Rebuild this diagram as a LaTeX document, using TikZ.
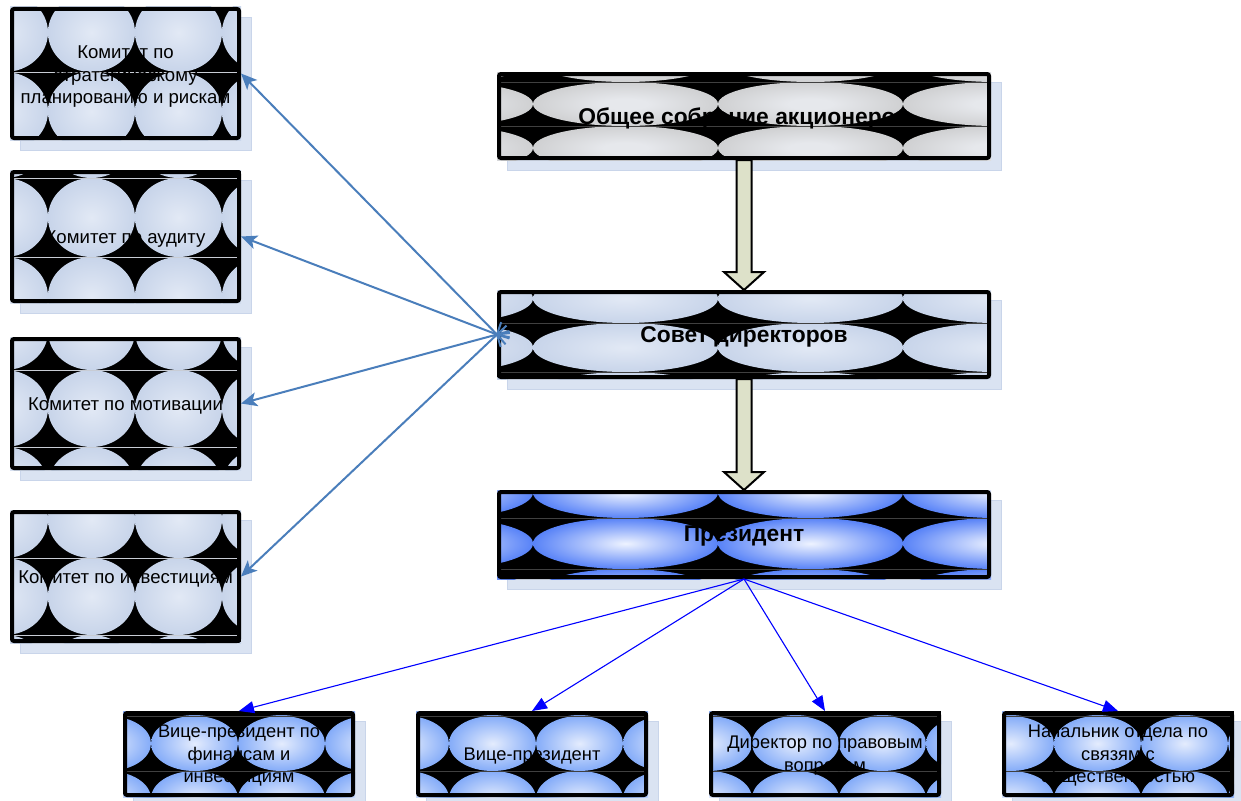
\documentclass[tikz,border=0pt]{standalone}
\usepackage{fontspec}
\setmainfont{Liberation Sans}
\usetikzlibrary{arrows.meta,calc}

\definecolor{lbO}{HTML}{B8C8E3}
\definecolor{lbI}{HTML}{E2E9F5}
\definecolor{gyO}{HTML}{C0C0C0}
\definecolor{gyI}{HTML}{E6E8EC}
\definecolor{prO}{HTML}{3A6CF6}
\definecolor{prI}{HTML}{EEF3FF}
\definecolor{vpO}{HTML}{6A9AF7}
\definecolor{vpI}{HTML}{E4ECFD}
\definecolor{shadowc}{HTML}{DAE3F2}
\definecolor{shadowe}{HTML}{C9D5EA}
\definecolor{arrfill}{HTML}{DDE1C9}
\definecolor{steel}{HTML}{4A7EBB}
\definecolor{pureblue}{HTML}{0000FF}
\definecolor{seamlight}{HTML}{C8CCD4}
\definecolor{seamdark}{HTML}{404040}

\pgfdeclareradialshading{shLB}{\pgfpoint{0bp}{0bp}}{color(0bp)=(lbI); color(40bp)=(lbO); color(50bp)=(lbO)}
\pgfdeclareradialshading{shGY}{\pgfpoint{0bp}{0bp}}{color(0bp)=(gyI); color(6bp)=(gyI); color(38bp)=(gyO); color(50bp)=(gyO)}
\pgfdeclareradialshading{shPR}{\pgfpoint{0bp}{0bp}}{color(0bp)=(prI); color(30bp)=(prO); color(50bp)=(prO)}
\pgfdeclareradialshading{shVP}{\pgfpoint{0bp}{0bp}}{color(0bp)=(vpI); color(32bp)=(vpO); color(50bp)=(vpO)}

\def\seamcol{seamdark}
% #1 x1, #2 y1, #3 x2, #4 y2, #5 shading, #6 tile w, #7 tile h, #8 seam x, #9 seam y
\newcommand{\tilefill}[9]{%
  \pgfmathsetmacro{\tfrx}{#6/2}\pgfmathsetmacro{\tfry}{#7/2}%
  \begin{scope}
    \clip (#1,#2) rectangle (#3,#4);
    \fill[black] (#1,#2) rectangle (#3,#4);
    \foreach \i in {-1,...,3}{\foreach \j in {-3,...,3}{%
      \shade[shading=#5] ({#8+(\i+0.5)*#6},{#9+(\j+0.5)*#7}) ellipse [x radius=\tfrx, y radius=\tfry];
    }}
    \foreach \j in {-3,...,3}{\draw[draw=\seamcol, line width=0.7pt] (#1,{#9+\j*#7}) -- (#3,{#9+\j*#7});}
  \end{scope}}

\newcommand{\shadowrect}[4]{%
  \filldraw[fill=shadowc, draw=shadowe, line width=0.8pt] ({#1+10},{#2+10}) rectangle ({#3+10},{#4+10});}

\newcommand{\tx}[2]{\raisebox{#1}[\height][\depth]{\begin{tabular}{@{}c@{}}#2\end{tabular}}}

\tikzset{
  boxbase/.style={draw=black, line width=4pt, rounded corners=2pt, inner sep=0pt},
  combox/.style={boxbase, minimum width=227pt, minimum height=129pt, font=\fontsize{18.6}{22.5}\selectfont},
  mainbox/.style={boxbase, minimum width=490pt, minimum height=85pt, font=\bfseries\fontsize{22.8}{26}\selectfont},
  subbox/.style={boxbase, minimum width=228pt, minimum height=82pt, font=\fontsize{18.3}{22.5}\selectfont},
  blockarr/.style={fill=arrfill, draw=black, line width=2pt, line join=miter},
  steelarr/.style={draw=steel, line width=2pt, -{Stealth[length=16pt,width=14pt,inset=4pt]}},
  steelline/.style={draw=steel, line width=2pt},
  thinarr/.style={draw=pureblue, line width=1.1pt, -{Triangle[length=15pt,width=12pt]}}
}

\begin{document}
\begin{tikzpicture}[x=1pt,y=-1pt]
\useasboundingbox (0,0) rectangle (1241,800);
\fill[white] (0,0) rectangle (1241,800);

% ---- committees ----
\def\seamcol{seamlight}
\shadowrect{10}{7}{241}{140}
\tilefill{10}{7}{241}{140}{shLB}{87}{79}{48}{72}
\node[combox] (c1) at (125.5,73.5) {\tx{-3.5pt}{Комитет по\\стратегическому\\планированию и рискам}};

\shadowrect{10}{170}{241}{303}
\tilefill{10}{170}{241}{303}{shLB}{87}{79}{48}{257}
\node[combox] (c2) at (125.5,236.5) {\tx{-2.5pt}{Комитет по аудиту}};

\shadowrect{10}{337}{241}{470}
\tilefill{10}{337}{241}{470}{shLB}{87}{77}{48}{370}
\node[combox] (c3) at (125.5,403.5) {\tx{-2.5pt}{Комитет по мотивации}};

\shadowrect{10}{510}{241}{643}
\tilefill{10}{510}{241}{643}{shLB}{87}{77}{48}{558}
\node[combox] (c4) at (125.5,576.5) {\tx{-2.5pt}{Комитет по инвестициям}};

% ---- main column ----
\def\seamcol{seamdark}
\shadowrect{497}{72}{991}{160}
\tilefill{497}{72}{991}{160}{shGY}{185}{44}{533}{126}
\node[mainbox, minimum height=84pt] (obshee) at (744,116) {\tx{-3pt}{Общее собрание акционеров}};

\shadowrect{497}{290}{991}{379}
\tilefill{497}{290}{991}{379}{shLB}{185}{49}{533}{323}
\node[mainbox] (sovet) at (744,334.5) {\tx{-3pt}{Совет директоров}};

\shadowrect{497}{490}{991}{579}
\tilefill{497}{490}{991}{579}{shPR}{185}{51}{533}{518}
\node[mainbox] (pres) at (744,534.5) {\tx{-2pt}{Президент}};

% ---- bottom row ----
\shadowrect{123}{711}{355}{797}
\tilefill{123}{711}{355}{797}{shVP}{87}{55}{151}{771}
\node[subbox] (vp1) at (239,754) {\tx{-1.5pt}{Вице-президент по\\финансам и\\инвестициям}};

\shadowrect{416}{711}{648}{797}
\tilefill{416}{711}{648}{797}{shVP}{87}{55}{449}{771}
\node[subbox] (vp2) at (532,754) {\tx{-1.5pt}{Вице-президент}};

\shadowrect{709}{711}{941}{797}
\tilefill{709}{711}{941}{797}{shVP}{87}{55}{752}{771}
\node[subbox] (vp3) at (825,754) {\tx{-1.5pt}{Директор по правовым\\вопросам}};

\shadowrect{1002}{711}{1234}{797}
\tilefill{1002}{711}{1234}{797}{shVP}{87}{55}{1054}{771}
\node[subbox] (vp4) at (1118,754) {\tx{-1.5pt}{Начальник отдела по\\связям с\\общественностью}};

% ---- block arrows ----
\draw[blockarr] let \p1=(obshee.south), \p2=(sovet.north) in
  (\x1-7.5pt,\y1) -- (\x1+7.5pt,\y1) -- (\x1+7.5pt,\y2+18pt) -- (\x1+20pt,\y2+18pt)
  -- (\x2,\y2) -- (\x1-20pt,\y2+18pt) -- (\x1-7.5pt,\y2+18pt) -- cycle;
\draw[blockarr] let \p1=(sovet.south), \p2=(pres.north) in
  (\x1-7.5pt,\y1) -- (\x1+7.5pt,\y1) -- (\x1+7.5pt,\y2+18pt) -- (\x1+20pt,\y2+18pt)
  -- (\x2,\y2) -- (\x1-20pt,\y2+18pt) -- (\x1-7.5pt,\y2+18pt) -- cycle;

% ---- committee connectors ----
\foreach \c in {c1,c2,c3,c4}{
  \draw[steelarr] (sovet.west) -- (\c.east);
  \coordinate (r\c) at ($(sovet.west)!-1!(\c.east)$);
  \draw[steelline] ($(sovet.west)!13pt!28:(r\c)$) -- (sovet.west) -- ($(sovet.west)!13pt!-28:(r\c)$);
}

% ---- president connectors ----
\foreach \t in {vp1,vp2,vp3,vp4}{
  \draw[thinarr] (pres.south) -- (\t.north);
}
\end{tikzpicture}
\end{document}
